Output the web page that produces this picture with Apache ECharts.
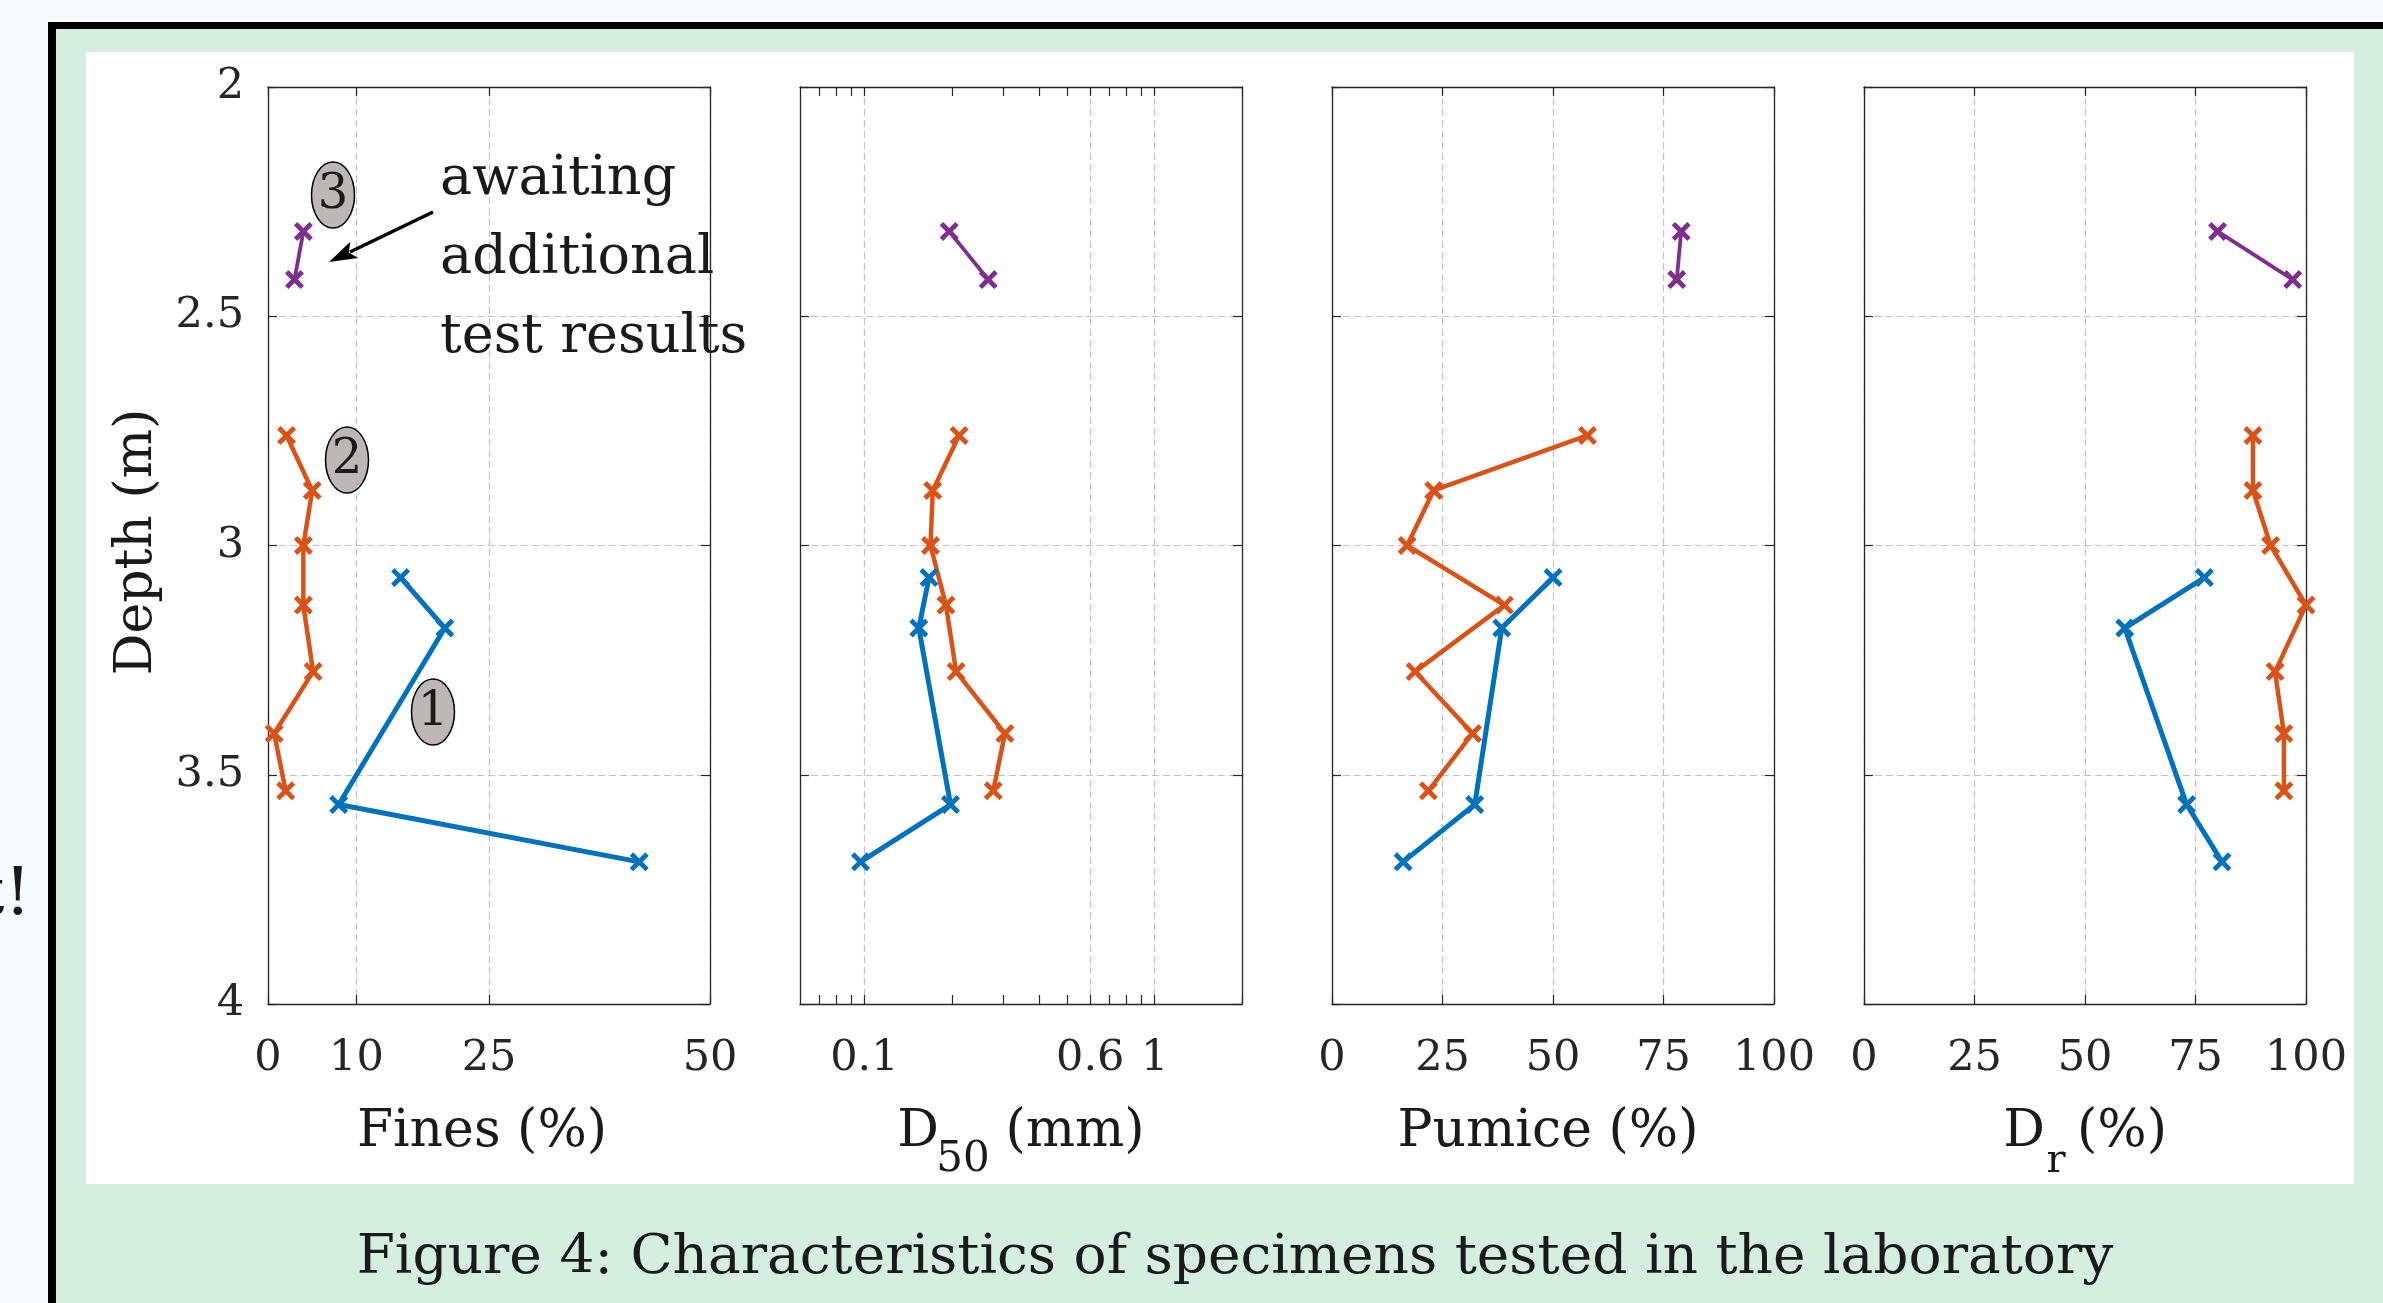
<!DOCTYPE html>
<html>
<head>
<meta charset="utf-8">
<style>
  html, body { margin: 0; padding: 0; background: #f8fbfe; }
  #chart { width: 2383px; height: 1303px; }
</style>
<script src="https://cdn.jsdelivr.net/npm/echarts@6/dist/echarts.min.js"></script>
</head>
<body>
<div id="chart"></div>
<script>
// depth of each tested specimen (m), per specimen group 1..3
const depth1 = [3.07, 3.18, 3.565, 3.69]
const depth2 = [2.76, 2.88, 3.0, 3.13, 3.275, 3.41, 3.535]
const depth3 = [2.315, 2.42]

// fines content (%)
const fines1 = [15, 20, 8, 42]
const fines2 = [2.1, 5.0, 4.0, 4.0, 5.1, 0.7, 2.0]
const fines3 = [4.0, 3.0]

// D50 (mm)
const d501 = [0.167, 0.154, 0.198, 0.097]
const d502 = [0.212, 0.172, 0.169, 0.191, 0.207, 0.305, 0.278]
const d503 = [0.196, 0.267]

// pumice content (%)
const pumice1 = [50, 38.4, 32.3, 16.1]
const pumice2 = [57.8, 23, 17, 39, 18.8, 31.8, 21.8]
const pumice3 = [79, 78]

// relative density Dr (%)
const dr1 = [77, 59, 73, 81]
const dr2 = [88, 88, 92, 100, 93, 95, 95]
const dr3 = [80, 97]

// tick labels
const finesTicks = [0, 10, 25, 50]
const d50Ticks = [0.1, 0.6, 1]
const d50Minor = [0.07, 0.08, 0.09, 0.1, 0.2, 0.3, 0.4, 0.5, 0.6, 0.7, 0.8, 0.9, 1, 2]
const pctTicks = [0, 25, 50, 75, 100]

const depths = [depth1, depth2, depth3]
const colors = ['#0072BD', '#D95319', '#7E2F8E']
const widths = [5, 4.5, 3.8]

const FONT = '"DejaVu Serif", serif'
const AX = '#262626'
const gridStyle = { color: '#c2c2c2', width: 1.2, type: [7, 4] }
const X_MARK = 'path://M0,1.8L1.8,0L5,3.2L8.2,0L10,1.8L6.8,5L10,8.2L8.2,10L5,6.8L1.8,10L0,8.2L3.2,5Z'

const panels = [
  { type: 'value', min: 0, max: 50, ticks: finesTicks, values: [fines1, fines2, fines3] },
  { type: 'log', min: 0.06, max: 2, ticks: d50Ticks, minor: d50Minor, values: [d501, d502, d503] },
  { type: 'value', min: 0, max: 100, ticks: pctTicks, values: [pumice1, pumice2, pumice3] },
  { type: 'value', min: 0, max: 100, ticks: pctTicks, values: [dr1, dr2, dr3] }
]

const PL = 268, PT = 87, PW = 442, PH = 917, STEP = 532

const grid = [], xAxis = [], yAxis = [], series = []

panels.forEach((p, i) => {
  grid.push({ left: PL + STEP * i, top: PT, width: PW, height: PH })

  const base = {
    type: p.type, gridIndex: i, min: p.min, max: p.max,
    axisLine: { show: true, onZero: false, lineStyle: { color: AX, width: 1.3 } }
  }
  if (p.type === 'log') base.logBase = 10
  const tick = {
    show: true, inside: true, length: 9,
    customValues: p.minor || p.ticks,
    lineStyle: { color: AX, width: 1.2 }
  }

  const bottomIdx = xAxis.length
  xAxis.push(Object.assign({}, base, {
    position: 'bottom',
    axisTick: tick,
    axisLabel: {
      show: true, customValues: p.ticks, margin: 33,
      color: AX, fontFamily: FONT, fontSize: 43,
      formatter: v => String(Math.round(v * 1000) / 1000)
    },
    splitLine: { show: !p.minor, lineStyle: gridStyle }
  }))
  xAxis.push(Object.assign({}, base, {
    position: 'top',
    axisTick: tick,
    axisLabel: { show: false },
    splitLine: { show: false }
  }))
  if (p.minor) {
    // grid lines of the log axis only at the labelled values
    xAxis.push(Object.assign({}, base, {
      position: 'bottom',
      axisLine: { show: false, onZero: false },
      axisTick: { show: false, customValues: p.ticks },
      axisLabel: { show: false },
      splitLine: { show: true, lineStyle: gridStyle }
    }))
  }

  const ybase = {
    type: 'value', gridIndex: i, inverse: true, min: 2, max: 4, interval: 0.5,
    axisLine: { show: true, onZero: false, lineStyle: { color: AX, width: 1.3 } },
    axisTick: { show: true, inside: true, length: 9, lineStyle: { color: AX, width: 1.2 } }
  }
  const leftIdx = yAxis.length
  yAxis.push(Object.assign({}, ybase, {
    position: 'left',
    axisLabel: {
      show: i === 0, margin: 24, color: AX, fontFamily: FONT, fontSize: 43,
      formatter: v => String(v)
    },
    splitLine: { show: true, lineStyle: gridStyle }
  }))
  yAxis.push(Object.assign({}, ybase, {
    position: 'right',
    axisLabel: { show: false },
    splitLine: { show: false }
  }))

  p.values.forEach((vals, s) => {
    series.push({
      type: 'line',
      xAxisIndex: bottomIdx,
      yAxisIndex: leftIdx,
      data: vals.map((v, k) => [v, depths[s][k]]),
      symbol: X_MARK,
      symbolSize: 19,
      showAllSymbol: true,
      clip: false,
      silent: true,
      lineStyle: { color: colors[s], width: widths[s] },
      itemStyle: { color: colors[s] }
    })
  })
})

function label(text, x, y, size, align, extra) {
  return Object.assign({
    type: 'text', x, y, z: 100,
    style: { text, font: size + 'px ' + FONT, fill: '#1a1a1a', align: align || 'center', verticalAlign: 'middle' }
  }, extra || {})
}
function badge(num, cx, cy) {
  return [
    { type: 'ellipse', z: 100, shape: { cx, cy, rx: 21.5, ry: 33 }, style: { fill: '#bcb8b8', stroke: '#000', lineWidth: 1.5 } },
    label(String(num), cx, cy + 1, 48, 'center', { z: 101 })
  ]
}

const graphic = [
  // slide frame
  { type: 'rect', z: -100, shape: { x: 48, y: 22, width: 2400, height: 1400 }, style: { fill: '#000' } },
  { type: 'rect', z: -99, shape: { x: 56, y: 29, width: 2400, height: 1400 }, style: { fill: '#d4eee0' } },
  { type: 'rect', z: -98, shape: { x: 86, y: 52, width: 2268, height: 1132 }, style: { fill: '#ffffff' } },
  label('t!', 31, 897, 66, 'right'),

  // axis titles
  label('Depth (m)', 137, 542, 52, 'center', { rotation: Math.PI / 2 }),
  label('Fines (%)', 482, 1132, 52),
  label('D', 918, 1132, 52),
  label('50', 963, 1160, 42),
  label('(mm)', 1075, 1132, 52),
  label('Pumice (%)', 1548, 1132, 52),
  label('D', 2024, 1132, 52),
  label('r', 2056, 1162, 40),
  label('(%)', 2122, 1132, 52),

  // caption
  label('Figure 4: Characteristics of specimens tested in the laboratory', 1235, 1259, 55),

  // annotation
  label('awaiting', 440, 180, 54, 'left'),
  label('additional', 440, 259, 54, 'left'),
  label('test results', 440, 338, 54, 'left'),
  { type: 'line', z: 100, shape: { x1: 433, y1: 212, x2: 350, y2: 252 }, style: { stroke: '#000', lineWidth: 3.5 } },
  { type: 'polygon', z: 100, shape: { points: [[329, 262], [350.3, 241.8], [348.8, 252.5], [358.1, 258]] }, style: { fill: '#000' } }
].concat(badge(3, 333, 195), badge(2, 347, 460), badge(1, 433, 712))

const chart = echarts.init(document.getElementById('chart'))
chart.setOption({
  backgroundColor: '#f8fbfe',
  animation: false,
  grid, xAxis, yAxis, series, graphic
})
</script>
</body>
</html>
